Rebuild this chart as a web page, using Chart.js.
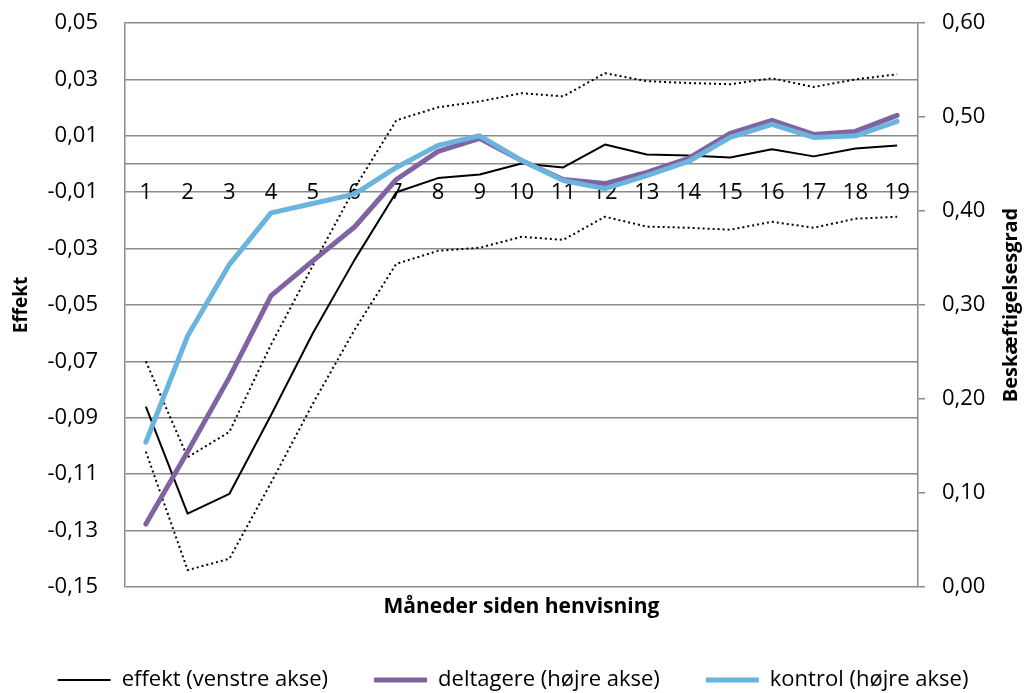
<!DOCTYPE html>
<html>
<head>
<meta charset="utf-8">
<script src="https://cdn.jsdelivr.net/npm/chart.js@4/dist/chart.umd.min.js"></script>
<style>
  body { margin: 0; background: #fff; }
  #wrap { width: 1026px; height: 693px; }
</style>
</head>
<body>
<div id="wrap"><canvas id="myChart"></canvas></div>
<script>
const months = ["1", "2", "3", "4", "5", "6", "7", "8", "9", "10", "11", "12", "13", "14", "15", "16", "17", "18", "19"];

// venstre akse
const effekt = [-0.086, -0.124, -0.117, -0.089, -0.060, -0.034, -0.010, -0.005, -0.0037, 0.0002, -0.0012, 0.0069, 0.0034, 0.003, 0.0023, 0.0052, 0.0027, 0.0055, 0.0066];
const effektOvre = [-0.070, -0.104, -0.095, -0.064, -0.036, -0.0086, 0.0155, 0.0201, 0.0222, 0.0251, 0.024, 0.0322, 0.0294, 0.0287, 0.0283, 0.0304, 0.0273, 0.030, 0.0318];
const effektNedre = [-0.102, -0.144, -0.140, -0.113, -0.085, -0.0588, -0.0354, -0.0308, -0.0297, -0.0258, -0.0269, -0.0187, -0.0222, -0.0226, -0.0233, -0.0205, -0.0226, -0.0194, -0.0187];

// højre akse
const deltagere = [0.067, 0.144, 0.223, 0.310, 0.347, 0.383, 0.4335, 0.4634, 0.4772, 0.4537, 0.4335, 0.4292, 0.441, 0.4559, 0.4826, 0.4964, 0.4815, 0.4847, 0.5018];
const kontrol = [0.154, 0.267, 0.343, 0.398, 0.408, 0.418, 0.4463, 0.4698, 0.480, 0.4537, 0.4324, 0.4238, 0.4377, 0.4527, 0.4783, 0.4922, 0.4783, 0.480, 0.4954];

const gridColor = "#8a8a8a";
const fontFam = "'Open Sans', 'Noto Sans', sans-serif";

// titel paa hoejre akse skal laeses nedefra og op
const rightTitle = {
  id: "rightTitle",
  afterDraw(chart) {
    const ctx = chart.ctx;
    const a = chart.chartArea;
    ctx.save();
    ctx.translate(chart.scales.y1.right - 15, (a.top + a.bottom) / 2);
    ctx.rotate(-Math.PI / 2);
    ctx.font = "bold 20px " + fontFam;
    ctx.fillStyle = "#000";
    ctx.textAlign = "center";
    ctx.textBaseline = "middle";
    ctx.fillText("Beskæftigelsesgrad", 0, 0);
    ctx.restore();
  },
};

const ctx = document.getElementById("myChart").getContext("2d");
const myChart = new Chart(ctx, {
  type: "line",
  data: {
    labels: months,
    datasets: [
      {
        label: "effekt (venstre akse)",
        data: effekt,
        yAxisID: "y",
        borderColor: "#000",
        backgroundColor: "#000",
        borderWidth: 2,
        order: 2,
      },
      {
        label: "deltagere (højre akse)",
        data: deltagere,
        yAxisID: "y1",
        borderColor: "#8064A2",
        backgroundColor: "#8064A2",
        borderWidth: 5,
        borderCapStyle: "round",
        order: 1,
      },
      {
        label: "kontrol (højre akse)",
        data: kontrol,
        yAxisID: "y1",
        borderColor: "#6AB4DD",
        backgroundColor: "#6AB4DD",
        borderWidth: 5,
        borderCapStyle: "round",
        order: 0,
      },
      {
        label: "øvre",
        data: effektOvre,
        yAxisID: "y",
        borderColor: "#000",
        borderWidth: 2,
        borderDash: [2, 3],
        order: 3,
      },
      {
        label: "nedre",
        data: effektNedre,
        yAxisID: "y",
        borderColor: "#000",
        borderWidth: 2,
        borderDash: [2, 3],
        order: 3,
      },
    ],
  },
  options: {
    responsive: true,
    maintainAspectRatio: false,
    animation: false,
    elements: {
      point: { radius: 0, hoverRadius: 0 },
      line: { tension: 0, borderJoinStyle: "round", fill: false },
    },
    layout: { padding: { top: 23, bottom: -8, left: 0, right: 0 } },
    plugins: {
      tooltip: { enabled: false },
      legend: {
        position: "bottom",
        labels: {
          filter: (item) => item.datasetIndex < 3,
          sort: (a, b) => a.datasetIndex - b.datasetIndex,
          usePointStyle: true,
          pointStyle: "line",
          pointStyleWidth: 53,
          padding: 46,
          color: "#000",
          font: { family: fontFam, size: 22 },
        },
      },
    },
    scales: {
      x: {
        type: "category",
        position: { y: 0 },
        offset: true,
        grid: { display: false, drawTicks: false },
        border: { display: true, color: gridColor, width: 1.5 },
        ticks: { color: "#000", padding: 16, maxRotation: 0, autoSkip: false, font: { family: fontFam, size: 22 } },
      },
      x2: {
        type: "category",
        position: "bottom",
        offset: true,
        grid: { display: false, drawTicks: false },
        border: { display: false },
        ticks: { display: false },
        title: {
          display: true,
          text: "Måneder siden henvisning",
          color: "#000",
          padding: { top: 0, bottom: 3 },
          font: { family: fontFam, size: 21, weight: "bold" },
        },
        afterFit: (scale) => {
          scale.height = 36;
        },
      },
      y: {
        position: "left",
        min: -0.15,
        max: 0.05,
        ticks: {
          stepSize: 0.02,
          padding: 27,
          color: "#000",
          font: { family: fontFam, size: 22 },
          callback: (v) => v.toFixed(2).replace(".", ","),
        },
        grid: { color: gridColor, lineWidth: 1.5, drawTicks: false },
        border: { display: true, color: gridColor, width: 1.5 },
        title: {
          display: true,
          text: "Effekt",
          color: "#000",
          padding: { top: 10, bottom: 0 },
          font: { family: fontFam, size: 19, weight: "bold" },
        },
        afterFit: (scale) => {
          scale.width = 125;
          scale.paddingTop = 12;
          scale.paddingBottom = 12;
        },
      },
      y1: {
        position: "right",
        min: 0,
        max: 0.6,
        ticks: {
          stepSize: 0.1,
          padding: 17,
          color: "#000",
          font: { family: fontFam, size: 22 },
          callback: (v) => v.toFixed(2).replace(".", ","),
        },
        grid: { drawOnChartArea: false, color: gridColor, lineWidth: 1.5, tickLength: 7 },
        border: { display: true, color: gridColor, width: 1.5 },
        afterFit: (scale) => {
          scale.width = 108;
          scale.paddingTop = 12;
          scale.paddingBottom = 12;
        },
      },
    },
  },
  plugins: [rightTitle],
});
</script>
</body>
</html>
